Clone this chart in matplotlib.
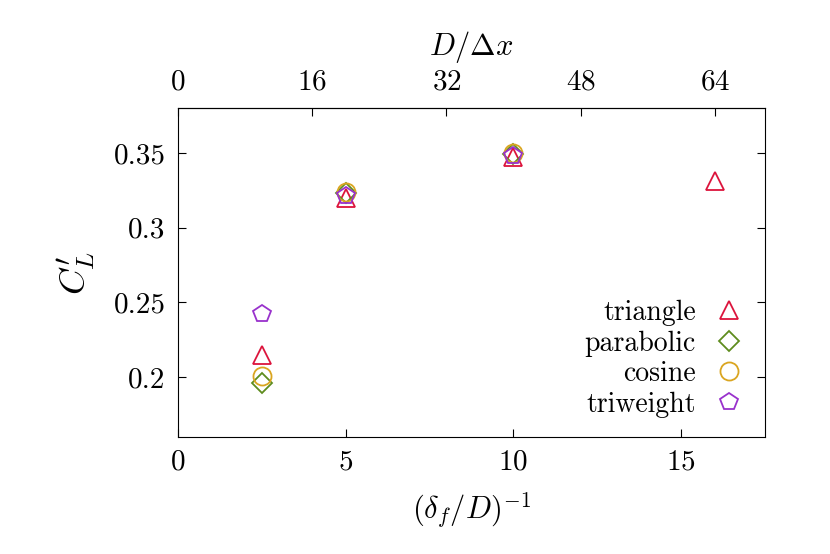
import matplotlib
matplotlib.use("Agg")
import matplotlib.pyplot as plt

plt.rcParams['font.family'] = 'serif'
plt.rcParams['font.serif'] = ['cmr10', 'DejaVu Serif']
plt.rcParams['mathtext.fontset'] = 'cm'
plt.rcParams['axes.formatter.use_mathtext'] = True

x_tri = [2.5, 5, 10, 16]
y_tri = [0.215, 0.320, 0.347, 0.331]
x_par = [2.5, 5, 10]
y_par = [0.196, 0.323, 0.349]
x_cos = [2.5, 5, 10]
y_cos = [0.201, 0.324, 0.350]
x_trw = [2.5, 5, 10]
y_trw = [0.242, 0.321, 0.348]

fig = plt.figure(figsize=(8.3, 5.54), dpi=100)
ax = fig.add_axes([0.2145, 0.2112, 0.7072, 0.5938])
ms = 13
ax.plot(x_tri, y_tri, '^', ms=ms, mfc='none', mec='#dc143c', mew=1.3, ls='none', label='triangle')
ax.plot(x_par, y_par, 'D', ms=ms*0.78, mfc='none', mec='#5e8c1e', mew=1.3, ls='none', label='parabolic')
ax.plot(x_cos, y_cos, 'o', ms=ms, mfc='none', mec='#daa520', mew=1.3, ls='none', label='cosine')
ax.plot(x_trw, y_trw, 'p', ms=ms, mfc='none', mec='#9932cc', mew=1.3, ls='none', label='triweight')

ax.set_xlim(0, 17.5)
ax.set_ylim(0.16, 0.38)
ax.set_xticks([0, 5, 10, 15])
ax.set_yticks([0.2, 0.25, 0.3, 0.35])
ax.set_yticklabels(['0.2', '0.25', '0.3', '0.35'])
ax.tick_params(direction='in', labelsize=21, length=6, right=True, pad=9)
ax.set_xlabel(r'$(\delta_f/D)^{-1}$', fontsize=22, labelpad=10)
ax.set_ylabel(r"$C_L'$", fontsize=26, labelpad=12)

sec = ax.secondary_xaxis('top', functions=(lambda v: v*4, lambda v: v/4))
sec.set_xticks([0, 16, 32, 48, 64])
sec.tick_params(direction='in', labelsize=21, length=6, pad=9)
sec.set_xlabel(r'$D/\Delta x$', fontsize=22, labelpad=10)

ax.legend(loc='lower right', frameon=False, markerfirst=False, fontsize=20,
          handletextpad=0.6, labelspacing=0.15, borderaxespad=0.3, handlelength=1.2)
fig.savefig('out.png', dpi=100)
